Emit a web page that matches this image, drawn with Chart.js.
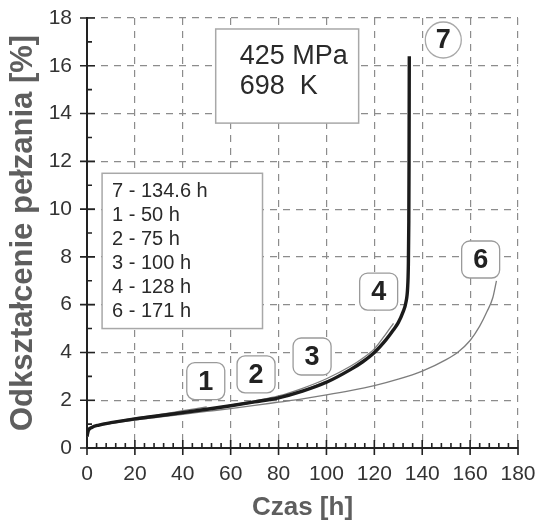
<!DOCTYPE html>
<html lang="pl">
<head>
<meta charset="utf-8">
<title>Odkształcenie pełzania</title>
<script src="https://cdn.jsdelivr.net/npm/chart.js@4.4.1/dist/chart.umd.min.js"></script>
<style>
  html, body { margin: 0; padding: 0; background: #fff; }
  #wrap { width: 537px; height: 523px; }
</style>
</head>
<body>
<div id="wrap"><canvas id="chart" width="537" height="523"></canvas></div>
<script>
// numery prób i czas do zerwania [h]
const numery = ['7', '1', '2', '3', '4', '6'];
const czasyZniszczenia = [134.6, 50, 75, 100, 128, 171];
const warunki = ['425 MPa', '698  K'];

const ticksX = [0, 20, 40, 60, 80, 100, 120, 140, 160, 180];
const ticksY = [0, 2, 4, 6, 8, 10, 12, 14, 16, 18];

// krzywe pełzania: czas [h] / odkształcenie [%]
const czas7 = [0, 0.5, 2, 5, 10, 20, 30, 40, 50, 60, 70, 80, 90, 100, 110, 115, 120, 125, 128, 130, 132, 133.2, 133.9, 134.2, 134.4, 134.5, 134.6];
const odk7  = [0.48, 0.72, 0.86, 0.96, 1.06, 1.22, 1.35, 1.48, 1.62, 1.77, 1.93, 2.1, 2.38, 2.75, 3.28, 3.6, 4.0, 4.55, 4.95, 5.25, 5.7, 6.1, 6.7, 7.6, 9.5, 12.0, 16.4];

const czas1 = [0, 0.5, 2, 5, 10, 20, 30, 40, 50];
const odk1  = [0.48, 0.74, 0.88, 0.98, 1.08, 1.25, 1.4, 1.56, 1.72];

const czas2 = [0, 0.5, 2, 5, 10, 20, 30, 40, 50, 60, 70, 75];
const odk2  = [0.48, 0.72, 0.86, 0.96, 1.05, 1.2, 1.33, 1.46, 1.6, 1.76, 1.94, 2.05];

const czas3 = [0, 0.5, 2, 5, 10, 20, 30, 40, 50, 60, 70, 80, 90, 100];
const odk3  = [0.48, 0.72, 0.86, 0.96, 1.05, 1.2, 1.32, 1.45, 1.59, 1.74, 1.91, 2.1, 2.4, 2.8];

const czas4 = [0, 0.5, 2, 5, 10, 20, 30, 40, 50, 60, 70, 80, 90, 100, 110, 115, 120, 125, 128];
const odk4  = [0.48, 0.72, 0.86, 0.96, 1.06, 1.22, 1.35, 1.49, 1.63, 1.79, 1.97, 2.18, 2.5, 2.9, 3.42, 3.75, 4.15, 4.8, 5.22];

const czas6 = [0, 0.5, 2, 5, 10, 20, 30, 40, 50, 60, 70, 80, 90, 100, 110, 120, 130, 140, 150, 155, 160, 164, 167, 169.5, 171];
const odk6  = [0.48, 0.7, 0.84, 0.94, 1.03, 1.17, 1.29, 1.41, 1.53, 1.65, 1.78, 1.92, 2.06, 2.22, 2.4, 2.61, 2.88, 3.22, 3.7, 4.02, 4.5, 5.1, 5.7, 6.3, 7.0];

// gdzie stoją numerki krzywych (współrzędne osi)
const etykiety = [
  { nr: '1', x: 49.6, y: 2.80 },
  { nr: '2', x: 70.6, y: 3.08 },
  { nr: '3', x: 94.0, y: 3.83 },
  { nr: '4', x: 121.8, y: 6.55 },
  { nr: '6', x: 164.4, y: 7.89 }
];
const kolko7 = { nr: '7', x: 148.8, y: 17.08 };

const ramkaWarunki = { x0: 53.75, y0: 17.54, x1: 113.45, y1: 13.6 };
const ramkaOpis = { x0: 6.3, y0: 11.5, x1: 73.3, y1: 5.0 };

const FONT = '"Liberation Sans", Arial, sans-serif';

function seria(czas, odk) {
  return czas.map((t, i) => ({ x: t, y: odk[i] }));
}

function zaokraglonyProstokat(ctx, x, y, w, h, r) {
  ctx.beginPath();
  ctx.moveTo(x + r, y);
  ctx.arcTo(x + w, y, x + w, y + h, r);
  ctx.arcTo(x + w, y + h, x, y + h, r);
  ctx.arcTo(x, y + h, x, y, r);
  ctx.arcTo(x, y, x + w, y, r);
  ctx.closePath();
}

// bez dodatkowego marginesu na etykiety - miejsce daje layout.padding
function bezMarginesu(s) {
  s.paddingTop = 0;
  s.paddingBottom = 0;
  s.paddingLeft = 0;
  s.paddingRight = 0;
}

const cienka = { borderColor: '#7d7d7d', borderWidth: 1.3 };

const ramki = {
  id: 'ramki',
  beforeDatasetsDraw(chart) {
    const { ctx } = chart;
    const sx = chart.scales.x, sy = chart.scales.y;
    ctx.save();

    // ramka z warunkami badania
    let l = sx.getPixelForValue(ramkaWarunki.x0), t = sy.getPixelForValue(ramkaWarunki.y0);
    let r = sx.getPixelForValue(ramkaWarunki.x1), b = sy.getPixelForValue(ramkaWarunki.y1);
    ctx.fillStyle = '#fff';
    ctx.strokeStyle = '#a8a8a8';
    ctx.lineWidth = 1.5;
    ctx.fillRect(l, t, r - l, b - t);
    ctx.strokeRect(l, t, r - l, b - t);
    ctx.fillStyle = '#2a2a2a';
    ctx.font = '27px ' + FONT;
    ctx.textBaseline = 'middle';
    ctx.textAlign = 'left';
    warunki.forEach((txt, i) => ctx.fillText(txt, l + 24, t + 28 + i * 30));

    // opis: numer próby - czas do zerwania
    l = sx.getPixelForValue(ramkaOpis.x0); t = sy.getPixelForValue(ramkaOpis.y0);
    r = sx.getPixelForValue(ramkaOpis.x1); b = sy.getPixelForValue(ramkaOpis.y1);
    ctx.fillStyle = '#fff';
    ctx.fillRect(l, t, r - l, b - t);
    ctx.strokeRect(l, t, r - l, b - t);
    ctx.fillStyle = '#2a2a2a';
    ctx.font = '20px ' + FONT;
    numery.forEach((nr, i) => {
      ctx.fillText(nr + ' - ' + czasyZniszczenia[i] + ' h', l + 10, t + 18 + i * 24);
    });

    // numerki krzywych
    ctx.font = 'bold 27px ' + FONT;
    ctx.textAlign = 'center';
    etykiety.forEach(e => {
      const cx = sx.getPixelForValue(e.x), cy = sy.getPixelForValue(e.y);
      zaokraglonyProstokat(ctx, cx - 19, cy - 18.5, 38, 37, 8);
      ctx.fillStyle = '#fff';
      ctx.fill();
      ctx.strokeStyle = '#9a9a9a';
      ctx.lineWidth = 1.3;
      ctx.stroke();
      ctx.fillStyle = '#222';
      ctx.fillText(e.nr, cx, cy + 1);
    });

    const cx = sx.getPixelForValue(kolko7.x), cy = sy.getPixelForValue(kolko7.y);
    ctx.beginPath();
    ctx.arc(cx, cy, 18, 0, Math.PI * 2);
    ctx.fillStyle = '#fff';
    ctx.fill();
    ctx.strokeStyle = '#a8a8a8';
    ctx.stroke();
    ctx.fillStyle = '#222';
    ctx.fillText(kolko7.nr, cx, cy + 1);
    ctx.restore();
  },
  afterDraw(chart) {
    // kreski podziałki: główne na przecięciu osi, pomocnicze do środka
    const { ctx } = chart;
    const sx = chart.scales.x, sy = chart.scales.y;
    const y0 = sy.getPixelForValue(0), x0 = sx.getPixelForValue(0);
    ctx.save();
    ctx.strokeStyle = '#222';
    ctx.lineWidth = 1.6;
    ctx.beginPath();
    for (let v = 0; v <= 180; v += 4) {
      const p = sx.getPixelForValue(v);
      const glowna = v % 20 === 0;
      ctx.moveTo(p, y0 - (glowna ? 8 : 5));
      ctx.lineTo(p, y0 + (glowna ? 7 : 0));
    }
    for (let v = 0; v <= 18; v += 1) {
      const p = sy.getPixelForValue(v);
      const glowna = v % 2 === 0;
      ctx.moveTo(x0 - (glowna ? 7 : 0), p);
      ctx.lineTo(x0 + (glowna ? 8 : 5), p);
    }
    ctx.stroke();
    ctx.restore();
  }
};

const ctx = document.getElementById('chart').getContext('2d');
const myChart = new Chart(ctx, {
  type: 'line',
  data: {
    datasets: [
      { label: '7', data: seria(czas7, odk7), borderColor: '#1b1b1b', borderWidth: 3.4 },
      { label: '1', data: seria(czas1, odk1), ...cienka },
      { label: '2', data: seria(czas2, odk2), ...cienka },
      { label: '3', data: seria(czas3, odk3), ...cienka },
      { label: '4', data: seria(czas4, odk4), ...cienka },
      { label: '6', data: seria(czas6, odk6), ...cienka }
    ]
  },
  options: {
    responsive: false,
    animation: false,
    events: [],
    layout: { padding: { top: 18, right: 19, left: 0, bottom: 0 } },
    elements: {
      point: { radius: 0 },
      line: { cubicInterpolationMode: 'monotone', fill: false }
    },
    plugins: { legend: { display: false }, tooltip: { enabled: false } },
    scales: {
      x: {
        type: 'linear',
        min: 0,
        max: 180,
        afterBuildTicks: s => { s.ticks = ticksX.map(v => ({ value: v })); },
        afterFit: s => { s.height = 75; bezMarginesu(s); },
        ticks: { font: { family: FONT, size: 21 }, color: '#333', padding: 14, maxRotation: 0 },
        grid: { color: '#8c8c8c', lineWidth: 1.2, drawTicks: false },
        border: { color: '#222', width: 2, dash: [7, 6] },
        title: {
          display: true,
          text: 'Czas [h]',
          color: '#5e5e5e',
          font: { family: FONT, size: 26, weight: 'bold', lineHeight: 1.2 },
          padding: { top: 0, bottom: 0 }
        }
      },
      y: {
        type: 'linear',
        min: 0,
        max: 18,
        afterBuildTicks: s => { s.ticks = ticksY.map(v => ({ value: v })); },
        afterFit: s => { s.width = 87; bezMarginesu(s); },
        ticks: { font: { family: FONT, size: 21 }, color: '#333', padding: 15 },
        grid: { color: '#8c8c8c', lineWidth: 1.2, drawTicks: false },
        border: { color: '#222', width: 2, dash: [7, 6] },
        title: {
          display: true,
          text: 'Odkształcenie pełzania [%]',
          color: '#5e5e5e',
          font: { family: FONT, size: 31, weight: 'bold', lineHeight: 1.2 },
          padding: { top: 5, bottom: 0 }
        }
      }
    }
  },
  plugins: [ramki]
});
</script>
</body>
</html>
